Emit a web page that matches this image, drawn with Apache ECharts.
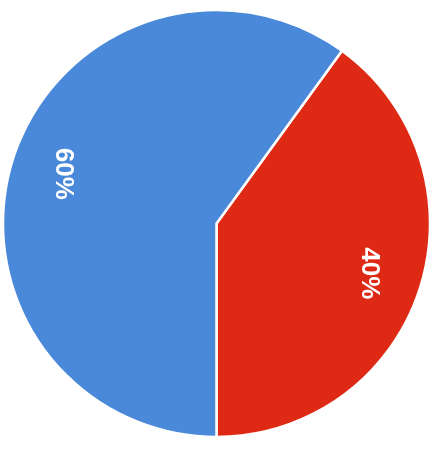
<!DOCTYPE html>
<html>
<head>
<meta charset="utf-8">
<script src="https://cdn.jsdelivr.net/npm/echarts@6/dist/echarts.min.js"></script>
<style>
html,body{margin:0;padding:0;background:#fff;}
#chart{width:437px;height:450px;}
</style>
</head>
<body>
<div id="chart"></div>
<script>
var categories = ['B', 'A'];
var values = [40, 60];
var labels = ['40%', '60%'];
var colors = ['#DE2A15', '#4A88D9'];

var chart = echarts.init(document.getElementById('chart'), null, {renderer: 'canvas'});
var data = categories.map(function (c, i) {
  return { name: c, value: values[i], label: { formatter: labels[i] } };
});
chart.setOption({
  animation: false,
  color: colors,
  series: [
    {
      type: 'pie',
      center: [216.5, 223.5],
      radius: [0, 213.5],
      startAngle: 54,
      clockwise: true,
      silent: true,
      label: { show: false },
      labelLine: { show: false },
      itemStyle: { borderColor: '#ffffff', borderWidth: 2.5 },
      data: data
    },
    {
      type: 'pie',
      center: [216.5, 223.5],
      radius: [103, 213],
      startAngle: 54,
      clockwise: true,
      silent: true,
      itemStyle: { color: 'rgba(0,0,0,0)', borderWidth: 0 },
      label: {
        show: true,
        position: 'inside',
        rotate: -90,
        color: '#ffffff',
        fontSize: 26,
        fontWeight: 'bold',
        fontFamily: 'Liberation Sans, Arial, sans-serif'
      },
      labelLine: { show: false },
      data: data
    }
  ]
});
</script>
</body>
</html>
